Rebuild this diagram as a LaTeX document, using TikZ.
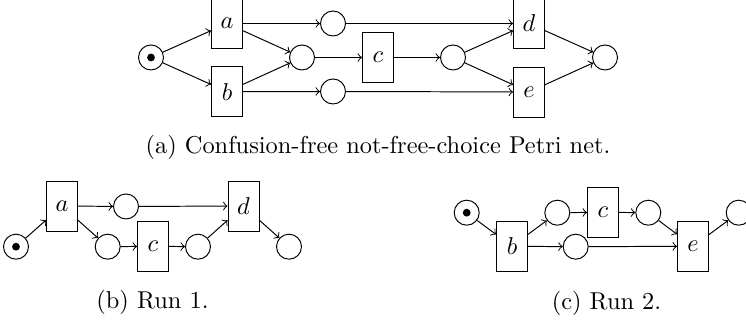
\documentclass[tikz,border=0pt]{standalone}
\begin{document}
\begin{tikzpicture}[x=0.41pt,y=-0.41pt,
  place/.style={circle,draw,minimum size=10.25pt,inner sep=0pt},
  trans/.style={rectangle,draw,minimum width=12.7pt,minimum height=20.5pt,inner sep=0pt},
  arc/.style={->},
  tok/.style={fill=black}]
\useasboundingbox (0,0) rectangle (746,324);
% ---------- (a) ----------
\node[place] (A0) at (151,57.5) {};
\fill[tok] (A0.center) circle[radius=1.6pt];
\node[trans] (Aa) at (227,23.5) {$a$};
\node[trans] (Ab) at (227,91.7) {$b$};
\node[place] (Ap1) at (333,23.5) {};
\node[place] (Ap2) at (302,57.5) {};
\node[place] (Ap3) at (333,91.5) {};
\node[trans] (Ac) at (378,57.5) {$c$};
\node[place] (Ap4) at (453,57.5) {};
\node[trans] (Ad) at (529,23.5) {$d$};
\node[trans] (Ae) at (529,92) {$e$};
\node[place] (Ap5) at (605,57.5) {};
\draw[arc] (A0) -- (Aa);
\draw[arc] (A0) -- (Ab);
\draw[arc] (Aa) -- (Ap1);
\draw[arc] (Aa) -- (Ap2);
\draw[arc] (Ab) -- (Ap2);
\draw[arc] (Ab) -- (Ap3);
\draw[arc] (Ap1) -- (Ad);
\draw[arc] (Ap2) -- (Ac);
\draw[arc] (Ap3) -- (Ae);
\draw[arc] (Ac) -- (Ap4);
\draw[arc] (Ap4) -- (Ad);
\draw[arc] (Ap4) -- (Ae);
\draw[arc] (Ad) -- (Ap5);
\draw[arc] (Ae) -- (Ap5);
\node[anchor=base] (capa) at (378,153.5) {(a) Confusion-free not-free-choice Petri net.};
% ---------- (b) ----------
\node[place] (B0) at (16,246.7) {};
\fill[tok] (B0.center) circle[radius=1.6pt];
\node[trans] (Ba) at (62,206) {$a$};
\node[place] (Bp1) at (126,206.5) {};
\node[place] (Bp2) at (107.7,246.7) {};
\node[trans] (Bc) at (153,246.3) {$c$};
\node[place] (Bp3) at (198,246.7) {};
\node[trans] (Bd) at (243.5,206) {$d$};
\node[place] (Bp4) at (289,246.7) {};
\draw[arc] (B0) -- (Ba);
\draw[arc] (Ba) -- (Bp1);
\draw[arc] (Ba) -- (Bp2);
\draw[arc] (Bp1) -- (Bd);
\draw[arc] (Bp2) -- (Bc);
\draw[arc] (Bc) -- (Bp3);
\draw[arc] (Bp3) -- (Bd);
\draw[arc] (Bd) -- (Bp4);
\node[anchor=base] (capb) at (152.5,309) {(b) Run 1.};
% ---------- (c) ----------
\node[place] (C0) at (466.7,212.7) {};
\fill[tok] (C0.center) circle[radius=1.6pt];
\node[trans] (Cb) at (512,246.3) {$b$};
\node[place] (Cp1) at (557.3,212.7) {};
\node[trans] (Cc) at (603,212.3) {$c$};
\node[place] (Cp2) at (648.3,212.7) {};
\node[place] (Cp3) at (575.7,246.7) {};
\node[trans] (Ce) at (693,246.3) {$e$};
\node[place] (Cp4) at (738.7,212.7) {};
\draw[arc] (C0) -- (Cb);
\draw[arc] (Cb) -- (Cp1);
\draw[arc] (Cb) -- (Cp3);
\draw[arc] (Cp1) -- (Cc);
\draw[arc] (Cc) -- (Cp2);
\draw[arc] (Cp2) -- (Ce);
\draw[arc] (Cp3) -- (Ce);
\draw[arc] (Ce) -- (Cp4);
\node[anchor=base] (capc) at (606.5,309.5) {(c) Run 2.};
\end{tikzpicture}
\end{document}
